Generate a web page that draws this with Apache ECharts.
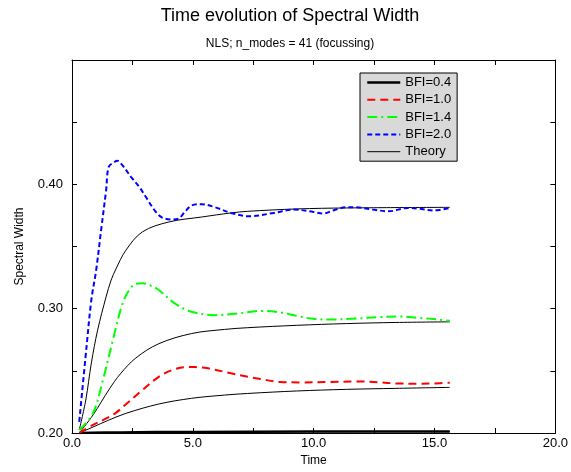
<!DOCTYPE html>
<html>
<head>
<meta charset="utf-8">
<script src="https://cdn.jsdelivr.net/npm/echarts@6/dist/echarts.min.js"></script>
<style>html,body{margin:0;padding:0;background:#fff}#c{width:571px;height:472px}</style>
</head>
<body>
<div id="c"></div>
<script>
// ---- data ----
const titleText = 'Time evolution of Spectral Width';
const subtitleText = 'NLS; n_modes = 41 (focussing)';
const xName = 'Time';
const yName = 'Spectral Width';
const seriesNames = ['BFI=0.4', 'BFI=1.0', 'BFI=1.4', 'BFI=2.0'];
const theoryName = 'Theory';

const bfi04_t = [0.3, 2, 5, 10, 15.63];
const bfi04_v = [0.200, 0.2005, 0.2009, 0.2012, 0.2013];

const bfi10_t = [0.3, 0.87, 1.28, 1.8, 2.23, 2.91, 3.59, 4.2, 4.7, 5.1, 5.63, 6.58, 7.27, 7.81, 8.62, 9.44, 10.67, 11.76, 12.7, 13.4, 14.34, 15.0, 15.63];
const bfi10_v = [0.200, 0.2065, 0.2104, 0.216, 0.2231, 0.2345, 0.2452, 0.2510, 0.2530, 0.2530, 0.2520, 0.248, 0.2452, 0.2434, 0.2410, 0.2407, 0.2410, 0.2415, 0.2407, 0.2399, 0.2396, 0.2399, 0.2404];

const bfi14_t = [0.3, 0.87, 1.28, 1.69, 2.09, 2.4, 2.64, 2.91, 3.2, 3.59, 4.27, 4.95, 5.9, 6.86, 7.81, 8.62, 9.3, 9.99, 10.8, 11.76, 12.7, 13.5, 14.34, 15.15, 15.63];
const bfi14_v = [0.2024, 0.216, 0.2426, 0.2747, 0.304, 0.316, 0.320, 0.3205, 0.319, 0.315, 0.304, 0.2975, 0.2948, 0.2961, 0.2982, 0.2970, 0.2942, 0.2918, 0.2913, 0.2921, 0.2932, 0.2937, 0.2926, 0.2913, 0.2902];

const bfi20_t = [0.3, 0.6, 0.8, 1.0, 1.21, 1.41, 1.52, 1.76, 1.87, 2.1, 2.44, 2.78, 3.05, 3.46, 3.73, 4.14, 4.41, 4.68, 4.95, 5.36, 5.9, 6.58, 7.33, 8.35, 9.17, 9.99, 10.4, 10.8, 11.35, 11.76, 12.44, 13.1, 13.9, 14.34, 14.95, 15.63];
const bfi20_v = [0.209, 0.269, 0.307, 0.331, 0.364, 0.395, 0.414, 0.418, 0.419, 0.415, 0.406, 0.398, 0.390, 0.378, 0.3733, 0.3717, 0.3725, 0.378, 0.383, 0.384, 0.3817, 0.377, 0.3743, 0.3770, 0.3797, 0.3778, 0.3765, 0.379, 0.3815, 0.3815, 0.3797, 0.3783, 0.3810, 0.3805, 0.3790, 0.3810];

const th04_t = [0.3, 2, 5, 10, 15.63];
const th04_v = [0.200, 0.2004, 0.2008, 0.2010, 0.2011];

const th10_t = [0.3, 0.87, 1.5, 2.23, 3.59, 4.95, 6.31, 7.27, 9.3, 11.35, 13.4, 15.63];
const th10_v = [0.200, 0.2048, 0.2102, 0.2158, 0.2233, 0.2279, 0.2305, 0.2318, 0.2338, 0.2351, 0.2359, 0.2367];

const th14_t = [0.3, 0.87, 1.55, 2.0, 2.64, 3.59, 4.95, 6.31, 7.27, 9.3, 11.35, 13.4, 15.63];
const th14_v = [0.200, 0.2145, 0.2355, 0.2475, 0.2603, 0.2718, 0.280, 0.2833, 0.2847, 0.2866, 0.2880, 0.2889, 0.2894];

const th20_t = [0.3, 0.57, 0.8, 1.06, 1.41, 1.62, 1.82, 2.23, 2.91, 4.0, 5.36, 6.58, 7.27, 9.3, 11.35, 15.63];
const th20_v = [0.2024, 0.2265, 0.2562, 0.2827, 0.3095, 0.323, 0.332, 0.347, 0.3617, 0.3697, 0.3737, 0.377, 0.3783, 0.3802, 0.3810, 0.3815];

const xTicks = [0, 5, 10, 15, 20];
const yTicks = [0.20, 0.30, 0.40];

// ---- chart ----
const FONT = 'Liberation Sans, Arial, Helvetica, sans-serif';
function pairs(t, v) { return t.map((x, i) => [x, v[i]]); }

const chart = echarts.init(document.getElementById('c'), null, {renderer: 'canvas'});

function dataLine(name, t, v, color, width, type) {
  return {
    name: name, type: 'line', data: pairs(t, v), showSymbol: false, symbol: 'none',
    smooth: 0.35,
    lineStyle: {color: color, width: width, type: type}, itemStyle: {color: color},
    xAxisIndex: 0, yAxisIndex: 0, z: 3
  };
}
function theoryLine(t, v) {
  return {
    name: theoryName, type: 'line', data: pairs(t, v), showSymbol: false, symbol: 'none',
    smooth: 0.35,
    lineStyle: {color: '#000', width: 1, type: 'solid'}, itemStyle: {color: '#000'},
    xAxisIndex: 0, yAxisIndex: 0, z: 2
  };
}

const axisCommon = {
  axisLine: {show: true, onZero: false, lineStyle: {color: '#000', width: 1}},
  axisTick: {show: true, inside: true, length: 5, lineStyle: {color: '#000', width: 1}},
  splitLine: {show: false}
};

const option = {
  animation: false,
  backgroundColor: '#fff',
  textStyle: {fontFamily: FONT},
  grid: {left: 72, top: 60, right: 9, bottom: 39, containLabel: false},
  graphic: [
    {type: 'text', style: {text: titleText, x: 290, y: 16, textAlign: 'center', textVerticalAlign: 'middle', font: '18px ' + FONT, fill: '#000'}},
    {type: 'text', style: {text: subtitleText, x: 290, y: 44, textAlign: 'center', textVerticalAlign: 'middle', font: '12px ' + FONT, fill: '#000'}}
  ],
  legend: {
    data: [
      {name: seriesNames[0], lineStyle: {width: 2.5}},
      {name: seriesNames[1], lineStyle: {width: 2}},
      {name: seriesNames[2], lineStyle: {width: 2}},
      {name: seriesNames[3], lineStyle: {width: 2}},
      {name: theoryName, lineStyle: {width: 1}}
    ],
    orient: 'vertical', left: 360, top: 73,
    itemWidth: 33, itemHeight: 12, itemGap: 4.3,
    padding: [3, 6, 3, 6],
    backgroundColor: '#d9d9d9', borderColor: '#000', borderWidth: 1, borderRadius: 0,
    itemStyle: {opacity: 0},
    textStyle: {fontFamily: FONT, fontSize: 13, color: '#000'},
    selectedMode: false
  },
  xAxis: [
    Object.assign({
      type: 'value', min: 0, max: 20, interval: 2.5, position: 'bottom',
      name: xName, nameLocation: 'middle', nameGap: 22,
      nameTextStyle: {fontFamily: FONT, fontSize: 12, color: '#000'},
      axisLabel: {show: true, margin: 4, fontFamily: FONT, fontSize: 13, color: '#000',
        showMaxLabel: true, showMinLabel: true,
        formatter: function (v) { return xTicks.indexOf(v) >= 0 ? v.toFixed(1) : ''; }}
    }, axisCommon),
    Object.assign({
      type: 'value', min: 0, max: 20, interval: 2.5, position: 'top',
      axisLabel: {show: false}
    }, axisCommon)
  ],
  yAxis: [
    Object.assign({
      type: 'value', min: 0.2, max: 0.5, interval: 0.05, position: 'left',
      name: yName, nameLocation: 'middle', nameGap: 46,
      nameTextStyle: {fontFamily: FONT, fontSize: 12, color: '#000'},
      axisLabel: {show: true, margin: 9, fontFamily: FONT, fontSize: 13, color: '#000',
        formatter: function (v) {
          const k = Math.round(v * 100);
          for (const t of yTicks) { if (Math.round(t * 100) === k) return t.toFixed(2); }
          return '';
        }}
    }, axisCommon),
    Object.assign({
      type: 'value', min: 0.2, max: 0.5, interval: 0.05, position: 'right',
      axisLabel: {show: false}
    }, axisCommon)
  ],
  series: [
    theoryLine(th04_t, th04_v),
    theoryLine(th10_t, th10_v),
    theoryLine(th14_t, th14_v),
    theoryLine(th20_t, th20_v),
    dataLine(seriesNames[0], bfi04_t, bfi04_v, '#000000', 2.5, 'solid'),
    dataLine(seriesNames[1], bfi10_t, bfi10_v, '#ff0000', 2, [8, 5]),
    dataLine(seriesNames[2], bfi14_t, bfi14_v, '#00ff00', 2, [10, 4, 2, 4]),
    dataLine(seriesNames[3], bfi20_t, bfi20_v, '#0000ff', 2, [5, 3])
  ]
};
chart.setOption(option);
</script>
</body>
</html>
